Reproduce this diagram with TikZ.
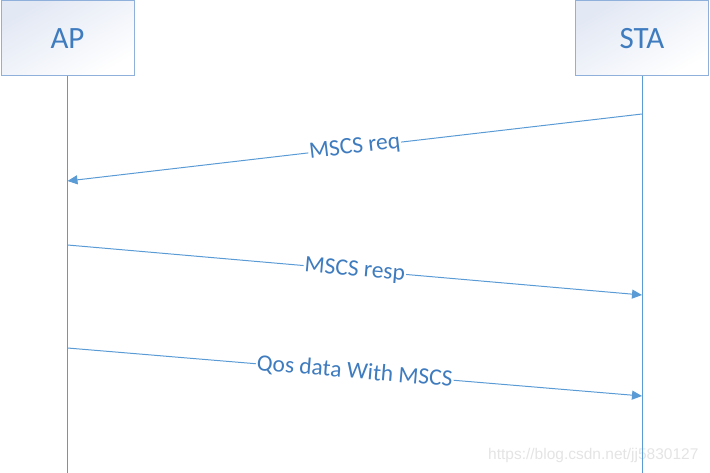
\documentclass[tikz,border=0pt]{standalone}
\usepackage{fontspec}
\setmainfont{Carlito}
\newfontfamily\markfont{Liberation Sans}
\usetikzlibrary{arrows.meta}
\definecolor{msgblue}{HTML}{5B9BD5}
\definecolor{txtblue}{HTML}{3F7CBF}
\definecolor{boxedge}{HTML}{8FB0DB}
\definecolor{boxtint}{HTML}{E2E8F4}
\definecolor{marktext}{HTML}{E4E4E4}

\begin{document}
\begin{tikzpicture}[x=1pt, y=-1pt,
    entity/.style={draw=boxedge, line width=1pt, top color=boxtint, bottom color=white,
        shading angle=30, minimum width=133pt, minimum height=75pt, text=txtblue,
        font=\fontsize{31}{36}\selectfont},
    lifeline/.style={draw=msgblue, line width=1pt},
    msg/.style={draw=msgblue, line width=1pt, -{Triangle[length=10pt, width=9pt]}},
    msglabel/.style={sloped, fill=white, text=txtblue, inner sep=1pt,
        font=\fontsize{23.5}{27}\selectfont}]
    \useasboundingbox (0,0) rectangle (710,473);

    % 水印
    \node[text=marktext, anchor=east, font=\fontsize{15.5}{18}\selectfont\markfont] (mark) at (702,455) {https://blog.csdn.net/jj5830127};

    % 实体
    \node[entity] (AP) at (67.5,38.5) {AP};
    \node[entity] (STA) at (642,38.5) {STA};

    % 生命线
    \coordinate (APend) at (AP.south |- 0,473);
    \coordinate (STAend) at (STA.south |- 0,473);
    \draw[lifeline] (AP.south) -- (APend);
    \draw[lifeline] (STA.south) -- (STAend);

    % 消息
    \coordinate (req-s) at (STA.south |- 0,114);
    \coordinate (req-e) at (AP.south |- 0,181);
    \coordinate (resp-s) at (AP.south |- 0,245);
    \coordinate (resp-e) at (STA.south |- 0,295);
    \coordinate (data-s) at (AP.south |- 0,348);
    \coordinate (data-e) at (STA.south |- 0,396);

    \draw[msg] (req-s) -- node[msglabel] {MSCS req} (req-e);
    \draw[msg] (resp-s) -- node[msglabel] {MSCS resp} (resp-e);
    \draw[msg] (data-s) -- node[msglabel] {Qos data With MSCS} (data-e);
\end{tikzpicture}
\end{document}
